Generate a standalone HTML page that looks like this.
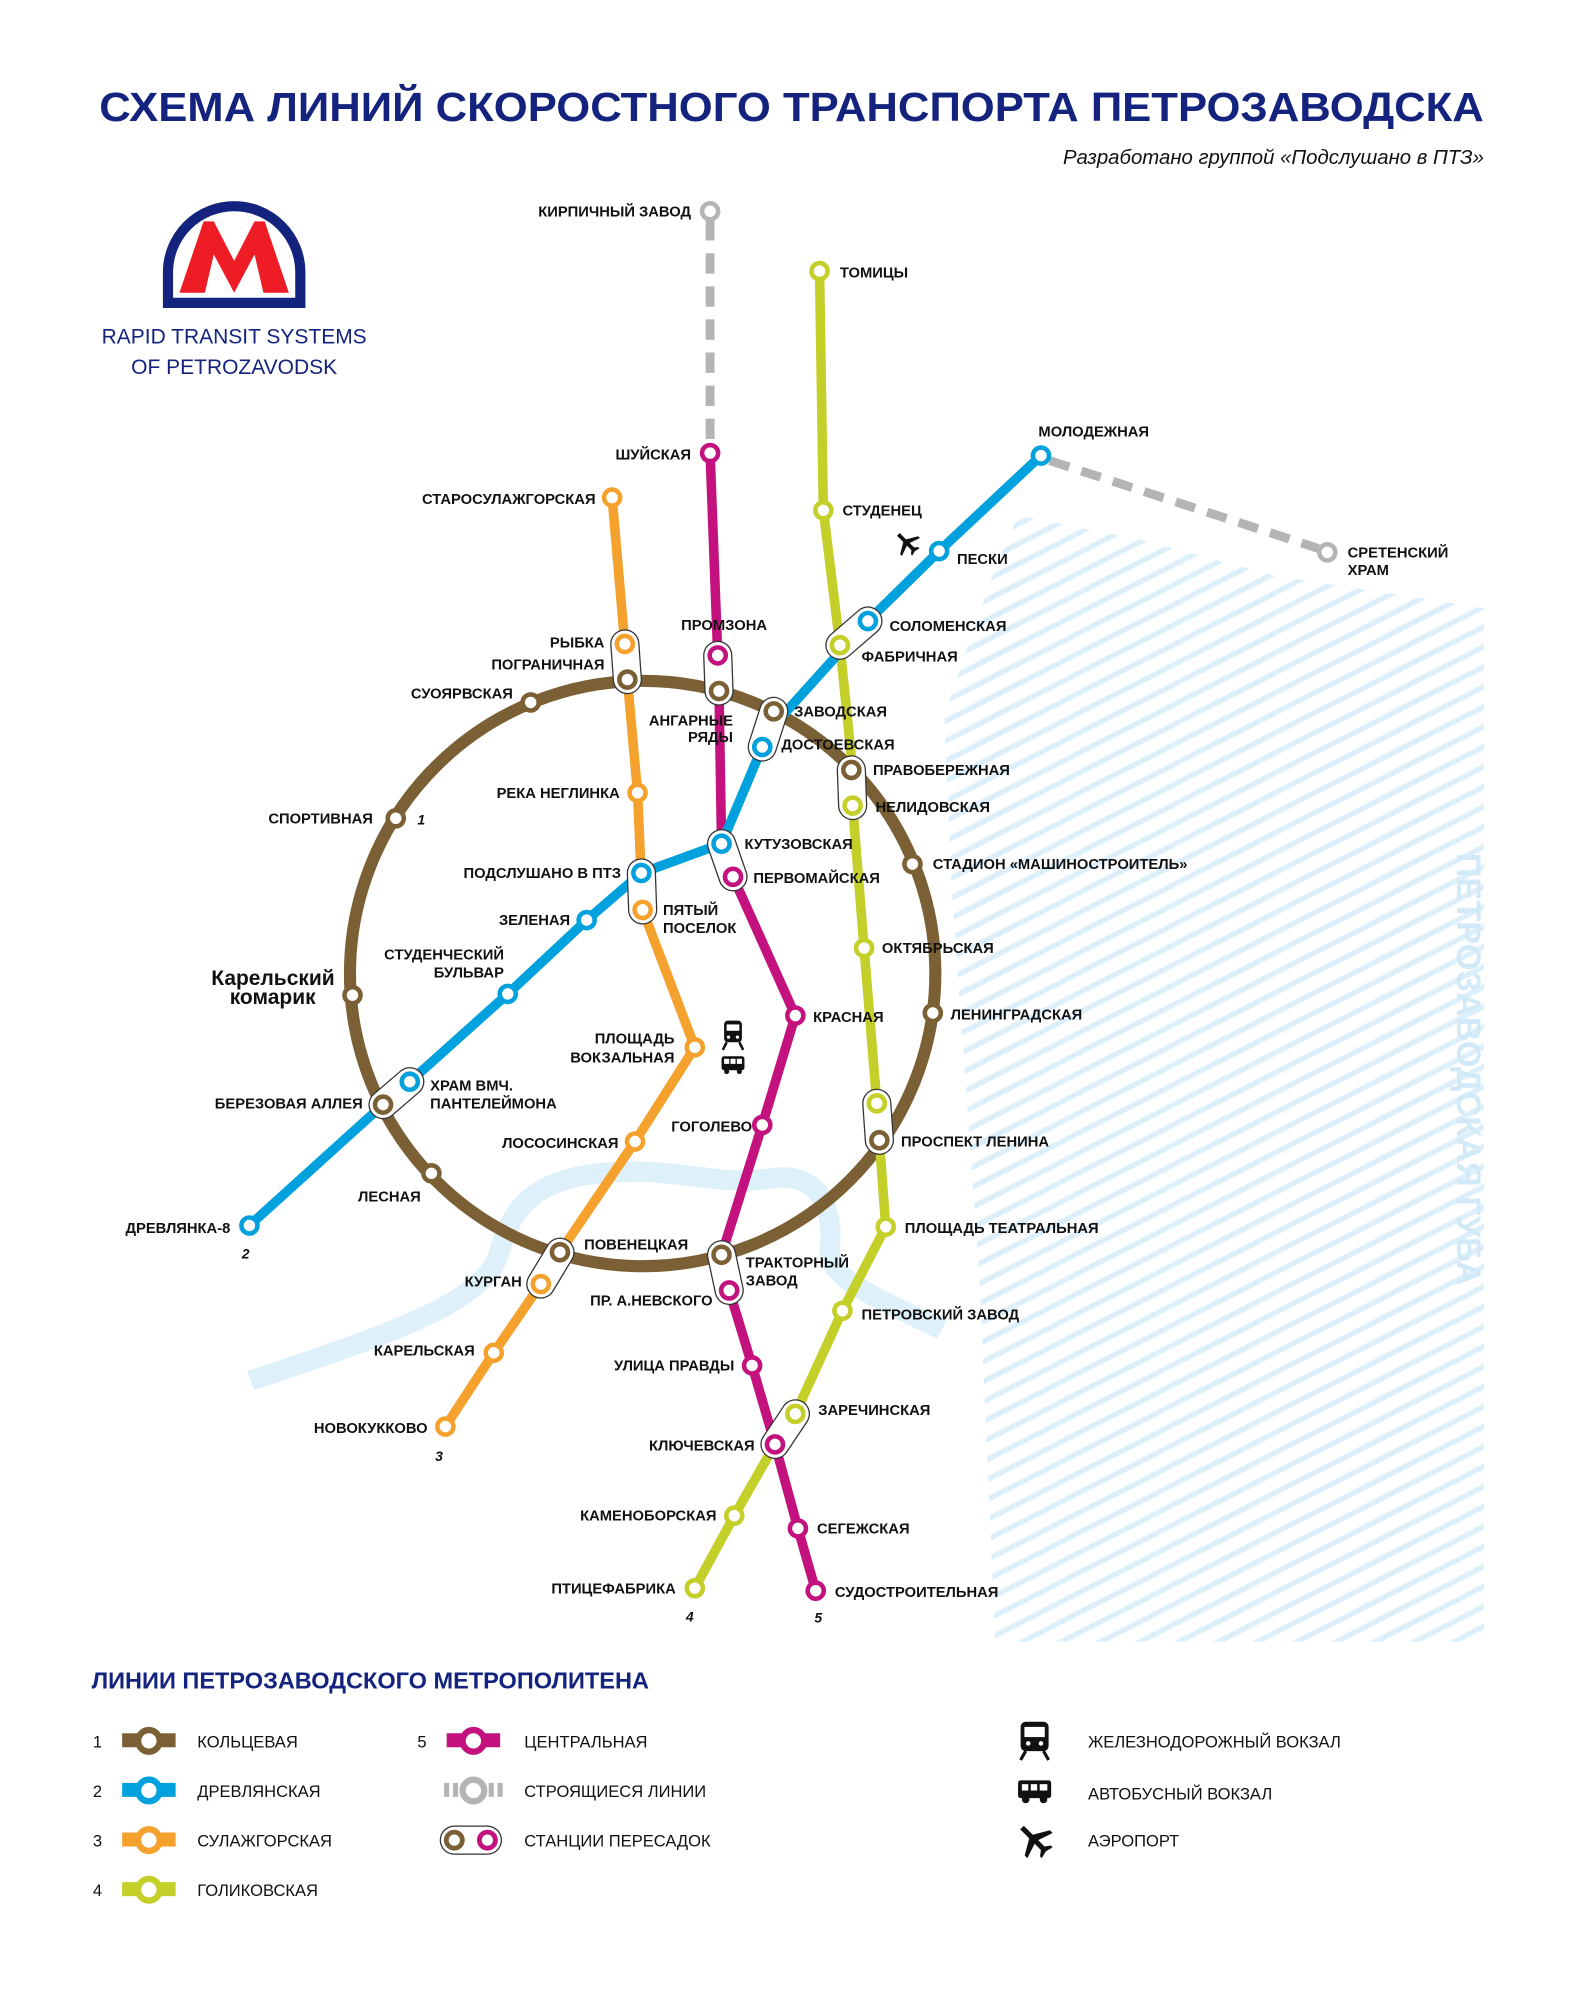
<!DOCTYPE html>
<html><head><meta charset="utf-8"><style>
html,body{margin:0;padding:0;background:#fff}
svg{display:block}
text{font-family:"Liberation Sans",sans-serif}
.l{font-size:11.6px;font-weight:bold;fill:#111}
.e{text-anchor:end}
.m{text-anchor:middle}
.n{font-size:11px;font-weight:bold;font-style:italic;fill:#111}
.lg{font-size:13px;fill:#111}
</style></head><body>
<svg width="1578" height="2000" viewBox="0 0 1240 1571.6" xmlns="http://www.w3.org/2000/svg">
<defs>
<pattern id="h" width="14" height="14" patternUnits="userSpaceOnUse" patternTransform="rotate(-27)">
<rect x="0" y="0" width="14" height="4.2" fill="#dceffa"/>
</pattern>
</defs>
<rect width="1240" height="1572" fill="#fff"/>

<!-- title -->
<text x="78" y="95" textLength="1088" lengthAdjust="spacingAndGlyphs" style="font-size:32px;font-weight:bold;fill:#13237e">СХЕМА ЛИНИЙ СКОРОСТНОГО ТРАНСПОРТА ПЕТРОЗАВОДСКА</text>
<text x="1166" y="129" style="font-size:16px;font-style:italic;fill:#111;text-anchor:end">Разработано группой «Подслушано в ПТЗ»</text>

<!-- logo -->
<path d="M132,238 L132,214 A52,52 0 0 1 236,214 L236,238 Z" fill="none" stroke="#13237e" stroke-width="8"/>
<path d="M141,230 L160,174 L168,174 L184,205 L200,174 L208,174 L227,230 L207,230 L200,200 L184,230 L168,200 L161,230 Z" fill="#ee1c25"/>
<text x="184" y="270" class="m" style="font-size:16.5px;fill:#13237e">RAPID TRANSIT SYSTEMS</text>
<text x="184" y="294" class="m" style="font-size:16.5px;fill:#13237e">OF PETROZAVODSK</text>

<!-- water -->
<polygon points="800,405 900,425 1000,452 1166,478 1166,1290 782,1290 770,1010 748,700 742,562 780,452" fill="url(#h)"/>
<text transform="translate(1145,840) rotate(90)" class="m" style="font-size:27px;font-weight:bold;fill:#d2eaf8">ПЕТРОЗАВОДСКАЯ ГУБА</text>
<path d="M197,1085 C300,1050 380,1025 392,985 C402,948 420,928 470,922 C530,916 565,933 605,926 C645,920 655,950 652,982 C650,1005 690,1020 740,1045" fill="none" stroke="#def1fb" stroke-width="16"/>

<!-- construction -->
<g stroke="#b3b4b6" stroke-width="7" fill="none" stroke-dasharray="16,10">
<line x1="558" y1="173" x2="558" y2="350"/>
<line x1="825" y1="362" x2="1036" y2="431"/>
</g>

<!-- circle line -->
<ellipse cx="505" cy="765" rx="230" ry="230" fill="none" stroke="#7a6034" stroke-width="9.5"/>

<g fill="none" stroke-width="7.5" stroke-linejoin="round" stroke-linecap="round">
<polyline stroke="#f4a22d" points="481,391 491,506 493,534 501,623 505,715 546,823 499,897 440,984 425,1009 388,1063 350,1121"/>
<polyline stroke="#c3127e" points="558,356 564,515 565,543 567,663 576,689 625,798 599,884 567,986 573,1014 591,1073 609,1135 627,1201 641,1250"/>
<polyline stroke="#c4cf29" points="644,213 647,401 660,507 670,605 670,633 679,745 689,867 691,896 696,964 662,1030 625,1111 609,1135 577,1191 546,1248"/>
<polyline stroke="#00a1dd" points="196,963 301,868 322,850 399,781 461,723 504,686 567,663 599,587 608,570 682,488 738,433 818,358"/>
</g>

<!-- transfer capsules -->
<g stroke-linecap="round">
<g stroke="#333" stroke-width="23">
<line x1="491" y1="506" x2="493" y2="534"/>
<line x1="564" y1="515" x2="565" y2="543"/>
<line x1="608" y1="559" x2="599" y2="587"/>
<line x1="682" y1="488" x2="660" y2="507"/>
<line x1="669" y1="605" x2="670" y2="633"/>
<line x1="567" y1="663" x2="576" y2="689"/>
<line x1="504" y1="686" x2="505" y2="715"/>
<line x1="322" y1="850" x2="301" y2="868"/>
<line x1="689" y1="867" x2="691" y2="896"/>
<line x1="440" y1="984" x2="425" y2="1009"/>
<line x1="567" y1="986" x2="573" y2="1014"/>
<line x1="625" y1="1111" x2="609" y2="1135"/>
</g>
<g stroke="#fff" stroke-width="21">
<line x1="491" y1="506" x2="493" y2="534"/>
<line x1="564" y1="515" x2="565" y2="543"/>
<line x1="608" y1="559" x2="599" y2="587"/>
<line x1="682" y1="488" x2="660" y2="507"/>
<line x1="669" y1="605" x2="670" y2="633"/>
<line x1="567" y1="663" x2="576" y2="689"/>
<line x1="504" y1="686" x2="505" y2="715"/>
<line x1="322" y1="850" x2="301" y2="868"/>
<line x1="689" y1="867" x2="691" y2="896"/>
<line x1="440" y1="984" x2="425" y2="1009"/>
<line x1="567" y1="986" x2="573" y2="1014"/>
<line x1="625" y1="1111" x2="609" y2="1135"/>
</g>
</g>

<!-- stations -->
<g fill="#fff" stroke-width="3.6">
<g stroke="#b3b4b6"><circle cx="558" cy="166" r="6.3"/><circle cx="1043" cy="434" r="6.3"/></g>
<g stroke="#7a6034">
<circle cx="493" cy="534" r="6.3"/><circle cx="417" cy="552" r="6.3"/><circle cx="311" cy="643" r="6.3"/>
<circle cx="277" cy="782" r="6.3"/><circle cx="301" cy="868" r="6.3"/><circle cx="339" cy="922" r="6.3"/>
<circle cx="440" cy="984" r="6.3"/><circle cx="567" cy="986" r="6.3"/><circle cx="691" cy="896" r="6.3"/>
<circle cx="733" cy="796" r="6.3"/><circle cx="717" cy="679" r="6.3"/><circle cx="669" cy="605" r="6.3"/>
<circle cx="608" cy="559" r="6.3"/><circle cx="565" cy="543" r="6.3"/>
</g>
<g stroke="#00a1dd">
<circle cx="196" cy="963" r="6.3"/><circle cx="322" cy="850" r="6.3"/><circle cx="399" cy="781" r="6.3"/>
<circle cx="461" cy="723" r="6.3"/><circle cx="504" cy="686" r="6.3"/><circle cx="567" cy="663" r="6.3"/>
<circle cx="599" cy="587" r="6.3"/><circle cx="682" cy="488" r="6.3"/><circle cx="738" cy="433" r="6.3"/>
<circle cx="818" cy="358" r="6.3"/>
</g>
<g stroke="#f4a22d">
<circle cx="481" cy="391" r="6.3"/><circle cx="491" cy="506" r="6.3"/><circle cx="501" cy="623" r="6.3"/>
<circle cx="505" cy="715" r="6.3"/><circle cx="546" cy="823" r="6.3"/><circle cx="499" cy="897" r="6.3"/>
<circle cx="425" cy="1009" r="6.3"/><circle cx="388" cy="1063" r="6.3"/><circle cx="350" cy="1121" r="6.3"/>
</g>
<g stroke="#c3127e">
<circle cx="558" cy="356" r="6.3"/><circle cx="564" cy="515" r="6.3"/><circle cx="576" cy="689" r="6.3"/>
<circle cx="625" cy="798" r="6.3"/><circle cx="599" cy="884" r="6.3"/><circle cx="573" cy="1014" r="6.3"/>
<circle cx="591" cy="1073" r="6.3"/><circle cx="609" cy="1135" r="6.3"/><circle cx="627" cy="1201" r="6.3"/>
<circle cx="641" cy="1250" r="6.3"/>
</g>
<g stroke="#c4cf29">
<circle cx="644" cy="213" r="6.3"/><circle cx="647" cy="401" r="6.3"/><circle cx="660" cy="507" r="6.3"/>
<circle cx="670" cy="633" r="6.3"/><circle cx="679" cy="745" r="6.3"/><circle cx="689" cy="867" r="6.3"/>
<circle cx="696" cy="964" r="6.3"/><circle cx="662" cy="1030" r="6.3"/><circle cx="625" cy="1111" r="6.3"/>
<circle cx="577" cy="1191" r="6.3"/><circle cx="546" cy="1248" r="6.3"/>
</g>
</g>

<!-- labels -->
<g class="l">
<text x="543" y="170" class="l e">КИРПИЧНЫЙ ЗАВОД</text>
<text x="660" y="218" class="l">ТОМИЦЫ</text>
<text x="816" y="343" class="l">МОЛОДЕЖНАЯ</text>
<text x="543" y="361" class="l e">ШУЙСКАЯ</text>
<text x="468" y="396" class="l e">СТАРОСУЛАЖГОРСКАЯ</text>
<text x="662" y="405" class="l">СТУДЕНЕЦ</text>
<text x="752" y="443" class="l">ПЕСКИ</text>
<text x="1059" y="438" class="l">СРЕТЕНСКИЙ</text>
<text x="1059" y="452" class="l">ХРАМ</text>
<text x="699" y="496" class="l">СОЛОМЕНСКАЯ</text>
<text x="569" y="495" class="l m">ПРОМЗОНА</text>
<text x="475" y="509" class="l e">РЫБКА</text>
<text x="677" y="520" class="l">ФАБРИЧНАЯ</text>
<text x="475" y="526" class="l e">ПОГРАНИЧНАЯ</text>
<text x="403" y="549" class="l e">СУОЯРВСКАЯ</text>
<text x="624" y="563" class="l">ЗАВОДСКАЯ</text>
<text x="576" y="570" class="l e">АНГАРНЫЕ</text>
<text x="576" y="583" class="l e">РЯДЫ</text>
<text x="614" y="589" class="l">ДОСТОЕВСКАЯ</text>
<text x="686" y="609" class="l">ПРАВОБЕРЕЖНАЯ</text>
<text x="487" y="627" class="l e">РЕКА НЕГЛИНКА</text>
<text x="688" y="638" class="l">НЕЛИДОВСКАЯ</text>
<text x="293" y="647" class="l e">СПОРТИВНАЯ</text>
<text x="585" y="667" class="l">КУТУЗОВСКАЯ</text>
<text x="733" y="683" class="l">СТАДИОН «МАШИНОСТРОИТЕЛЬ»</text>
<text x="488" y="690" class="l e">ПОДСЛУШАНО В ПТЗ</text>
<text x="592" y="694" class="l">ПЕРВОМАЙСКАЯ</text>
<text x="521" y="719" class="l">ПЯТЫЙ</text>
<text x="521" y="733" class="l">ПОСЕЛОК</text>
<text x="448" y="727" class="l e">ЗЕЛЕНАЯ</text>
<text x="693" y="749" class="l">ОКТЯБРЬСКАЯ</text>
<text x="396" y="754" class="l e">СТУДЕНЧЕСКИЙ</text>
<text x="396" y="768" class="l e">БУЛЬВАР</text>
<text x="263" y="774" class="e" style="font-size:16.5px;font-weight:bold;fill:#111">Карельский</text>
<text x="248" y="789" class="e" style="font-size:16.5px;font-weight:bold;fill:#111">комарик</text>
<text x="747" y="801" class="l">ЛЕНИНГРАДСКАЯ</text>
<text x="639" y="803" class="l">КРАСНАЯ</text>
<text x="530" y="820" class="l e">ПЛОЩАДЬ</text>
<text x="530" y="835" class="l e">ВОКЗАЛЬНАЯ</text>
<text x="338" y="857" class="l">ХРАМ ВМЧ.</text>
<text x="338" y="871" class="l">ПАНТЕЛЕЙМОНА</text>
<text x="285" y="871" class="l e">БЕРЕЗОВАЯ АЛЛЕЯ</text>
<text x="591" y="889" class="l e">ГОГОЛЕВО</text>
<text x="486" y="902" class="l e">ЛОСОСИНСКАЯ</text>
<text x="708" y="901" class="l">ПРОСПЕКТ ЛЕНИНА</text>
<text x="306" y="944" class="l m">ЛЕСНАЯ</text>
<text x="181" y="969" class="l e">ДРЕВЛЯНКА-8</text>
<text x="711" y="969" class="l">ПЛОЩАДЬ ТЕАТРАЛЬНАЯ</text>
<text x="459" y="982" class="l">ПОВЕНЕЦКАЯ</text>
<text x="586" y="996" class="l">ТРАКТОРНЫЙ</text>
<text x="586" y="1010" class="l">ЗАВОД</text>
<text x="410" y="1011" class="l e">КУРГАН</text>
<text x="560" y="1026" class="l e">ПР. А.НЕВСКОГО</text>
<text x="677" y="1037" class="l">ПЕТРОВСКИЙ ЗАВОД</text>
<text x="373" y="1065" class="l e">КАРЕЛЬСКАЯ</text>
<text x="577" y="1077" class="l e">УЛИЦА ПРАВДЫ</text>
<text x="643" y="1112" class="l">ЗАРЕЧИНСКАЯ</text>
<text x="336" y="1126" class="l e">НОВОКУККОВО</text>
<text x="593" y="1140" class="l e">КЛЮЧЕВСКАЯ</text>
<text x="563" y="1195" class="l e">КАМЕНОБОРСКАЯ</text>
<text x="642" y="1205" class="l">СЕГЕЖСКАЯ</text>
<text x="531" y="1252" class="l e">ПТИЦЕФАБРИКА</text>
<text x="656" y="1255" class="l">СУДОСТРОИТЕЛЬНАЯ</text>
</g>
<text x="328" y="648" class="n">1</text>
<text x="193" y="989" class="n m">2</text>
<text x="345" y="1148" class="n m">3</text>
<text x="542" y="1274" class="n m">4</text>
<text x="643" y="1275" class="n m">5</text>

<!-- icons on map -->
<g fill="#111">
<g transform="translate(576,814)">
<rect x="-7" y="-12" width="14" height="17" rx="3"/><rect x="-5" y="-9" width="10" height="5" fill="#fff"/>
<circle cx="-3.5" cy="1" r="1.3" fill="#fff"/><circle cx="3.5" cy="1" r="1.3" fill="#fff"/>
<path d="M-5,5 L-8,11 M5,5 L8,11" stroke="#111" stroke-width="2" fill="none"/>
</g>
<g transform="translate(576,836)">
<rect x="-9" y="-6" width="18" height="11" rx="2"/><rect x="-7" y="-4" width="4" height="4" fill="#fff"/><rect x="-2" y="-4" width="4" height="4" fill="#fff"/><rect x="3" y="-4" width="4" height="4" fill="#fff"/>
<circle cx="-5" cy="6" r="2"/><circle cx="5" cy="6" r="2"/>
</g>
<g transform="translate(713,427) rotate(-45)">
<path d="M-1.5,-10 L1.5,-10 L1.5,-3 L10,2 L10,4 L1.5,1 L1.5,6 L4,8 L4,9.5 L0,8.5 L-4,9.5 L-4,8 L-1.5,6 L-1.5,1 L-10,4 L-10,2 L-1.5,-3 Z"/>
</g>
</g>

<!-- legend -->
<text x="72" y="1327" style="font-size:18.5px;font-weight:bold;fill:#13237e">ЛИНИИ ПЕТРОЗАВОДСКОГО МЕТРОПОЛИТЕНА</text>
<g class="lg">
<text x="73" y="1373" class="lg">1</text><text x="73" y="1412" class="lg">2</text><text x="73" y="1451" class="lg">3</text><text x="73" y="1490" class="lg">4</text>
<text x="328" y="1373" class="lg">5</text>
<text x="155" y="1373" class="lg">КОЛЬЦЕВАЯ</text>
<text x="155" y="1412" class="lg">ДРЕВЛЯНСКАЯ</text>
<text x="155" y="1451" class="lg">СУЛАЖГОРСКАЯ</text>
<text x="155" y="1490" class="lg">ГОЛИКОВСКАЯ</text>
<text x="412" y="1373" class="lg">ЦЕНТРАЛЬНАЯ</text>
<text x="412" y="1412" class="lg">СТРОЯЩИЕСЯ ЛИНИИ</text>
<text x="412" y="1451" class="lg">СТАНЦИИ ПЕРЕСАДОК</text>
<text x="855" y="1373" class="lg">ЖЕЛЕЗНОДОРОЖНЫЙ ВОКЗАЛ</text>
<text x="855" y="1414" class="lg">АВТОБУСНЫЙ ВОКЗАЛ</text>
<text x="855" y="1451" class="lg">АЭРОПОРТ</text>
</g>
<g>
<rect x="96" y="1362" width="42" height="11" fill="#7a6034"/><circle cx="117" cy="1368" r="8.5" fill="#fff" stroke="#7a6034" stroke-width="5"/>
<rect x="96" y="1401" width="42" height="11" fill="#00a1dd"/><circle cx="117" cy="1407" r="8.5" fill="#fff" stroke="#00a1dd" stroke-width="5"/>
<rect x="96" y="1440" width="42" height="11" fill="#f4a22d"/><circle cx="117" cy="1446" r="8.5" fill="#fff" stroke="#f4a22d" stroke-width="5"/>
<rect x="96" y="1479" width="42" height="11" fill="#c4cf29"/><circle cx="117" cy="1485" r="8.5" fill="#fff" stroke="#c4cf29" stroke-width="5"/>
<rect x="351" y="1362" width="42" height="11" fill="#c3127e"/><circle cx="372" cy="1368" r="8.5" fill="#fff" stroke="#c3127e" stroke-width="5"/>
<rect x="349" y="1401" width="4" height="11" fill="#b3b4b6"/><rect x="356" y="1401" width="4" height="11" fill="#b3b4b6"/>
<rect x="384" y="1401" width="4" height="11" fill="#b3b4b6"/><rect x="391" y="1401" width="4" height="11" fill="#b3b4b6"/>
<circle cx="372" cy="1407" r="8.5" fill="#fff" stroke="#b3b4b6" stroke-width="5"/>
<line x1="357" y1="1446" x2="383" y2="1446" stroke="#333" stroke-width="23" stroke-linecap="round"/>
<line x1="357" y1="1446" x2="383" y2="1446" stroke="#fff" stroke-width="21" stroke-linecap="round"/>
<circle cx="357" cy="1446" r="6.3" fill="#fff" stroke="#7a6034" stroke-width="3.8"/>
<circle cx="383" cy="1446" r="6.3" fill="#fff" stroke="#c3127e" stroke-width="3.8"/>
</g>
<g fill="#111">
<g transform="translate(813,1368)">
<rect x="-11" y="-15" width="22" height="23" rx="4"/><rect x="-8" y="-11" width="16" height="8" fill="#fff"/>
<circle cx="-5" cy="2" r="1.8" fill="#fff"/><circle cx="5" cy="2" r="1.8" fill="#fff"/>
<path d="M-7,8 L-11,15 M7,8 L11,15" stroke="#111" stroke-width="2.5" fill="none"/>
</g>
<g transform="translate(813,1407)">
<rect x="-13" y="-8" width="26" height="14" rx="2"/><rect x="-10" y="-5" width="5" height="5" fill="#fff"/><rect x="-3" y="-5" width="5" height="5" fill="#fff"/><rect x="4" y="-5" width="6" height="5" fill="#fff"/>
<circle cx="-7" cy="7" r="3"/><circle cx="7" cy="7" r="3"/>
</g>
<g transform="translate(813,1446) rotate(-45)">
<path d="M-2,-14 L2,-14 L2,-4 L14,3 L14,6 L2,2 L2,9 L6,12 L6,14 L0,12.5 L-6,14 L-6,12 L-2,9 L-2,2 L-14,6 L-14,3 L-2,-4 Z"/>
</g>
</g>
</svg>
</body></html>
